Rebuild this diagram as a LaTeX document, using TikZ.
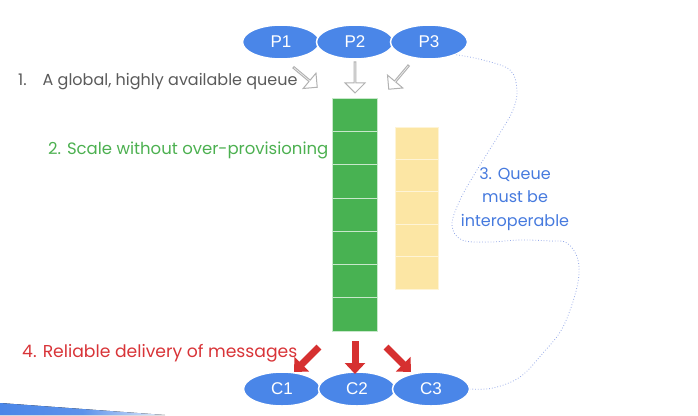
\documentclass[tikz,border=0pt]{standalone}
\usepackage{fontspec}
\setmainfont{Liberation Sans}
\newfontfamily\hand{Poppins}
\usetikzlibrary{shapes.geometric,shapes.arrows,arrows.meta}
\definecolor{gblue}{RGB}{74,134,232}
\definecolor{ggreen}{RGB}{72,178,82}
\definecolor{gyellow}{RGB}{252,230,164}
\definecolor{tgray}{RGB}{90,90,90}
\definecolor{tgreen}{RGB}{76,176,80}
\definecolor{tred}{RGB}{216,52,56}
\definecolor{tblue}{RGB}{70,122,222}
\definecolor{dotblue}{RGB}{150,170,232}
\definecolor{ared}{RGB}{214,48,48}
\tikzset{
  pc/.style={ellipse, fill=gblue, draw=white, line width=1.5pt, inner sep=0pt,
    minimum width=77pt, minimum height=34pt, text=white, font=\fontsize{17}{17}\selectfont},
  gcell/.style={rectangle, fill=ggreen, draw=white!70!ggreen, line width=0.8pt,
    minimum width=45pt, minimum height=33.3pt, inner sep=0pt},
  ycell/.style={rectangle, fill=gyellow, draw=white!55!gyellow, line width=0.8pt,
    minimum width=43pt, minimum height=32.4pt, inner sep=0pt},
  harrow/.style={single arrow, draw=gray!60, fill=white, line width=1pt,
    minimum height=31pt, minimum width=20pt, single arrow head extend=5pt,
    single arrow head indent=0pt, inner sep=0pt},
  rarrow/.style={draw=ared, line width=7pt, -{Triangle[width=20pt,length=11pt]}},
  htext/.style={inner sep=0pt},
}
\begin{document}
\begin{tikzpicture}[x=1pt,y=-1pt]
\useasboundingbox (0,0) rectangle (698,415);
% slide edge strip
\fill[left color=gblue, right color=gblue!15, middle color=gblue!90] (0,403) -- (165,415) -- (0,415) -- cycle;
% producers
\node[pc] (P1) at (281,42) {P1};
\node[pc] (P2) at (355,42) {P2};
\node[pc] (P3) at (429,42) {P3};
% consumers
\node[pc] (C1) at (282,389) {C1};
\node[pc] (C2) at (357,389) {C2};
\node[pc] (C3) at (431,389) {C3};
% green queue
\foreach \i in {1,...,7} {
  \node[gcell] (g\i) at (354.5, {98+33.3*(\i-0.5)}) {};
}
% yellow queue
\foreach \i in {1,...,5} {
  \node[ycell] (y\i) at (416.5, {127+32.4*(\i-0.5)}) {};
}
% hollow arrows
\node[harrow, rotate=-40] (a1) at (305,77) {};
\node[harrow, rotate=-90] (a2) at (355,77) {};
\node[harrow, rotate=-130] (a3) at (399,77) {};
% red arrows
\coordinate (r1s) at (319,347);
\coordinate (r1e) at (294,372);
\coordinate (r2s) at (355,341);
\coordinate (r2e) at (355,374);
\coordinate (r3s) at (386,347);
\coordinate (r3e) at (411,372);
\draw[rarrow] (r1s) -- (r1e);
\draw[rarrow] (r2s) -- (r2e);
\draw[rarrow] (r3s) -- (r3e);
% texts
\node[htext, text=tgray, anchor=west, font=\hand\fontsize{16}{19}\selectfont] (t1) at (18,82) {1.\quad A global, highly available queue};
\node[htext, text=tgreen, anchor=west, font=\hand\fontsize{16.5}{19}\selectfont] (t2) at (48,150) {2. Scale without over-provisioning};
\node[htext, text=tred, anchor=west, font=\hand\fontsize{17.2}{20}\selectfont] (t4) at (22,353) {4. Reliable delivery of messages};
\node[htext, text=tblue, align=center, font=\hand\fontsize{16}{23.5}\selectfont] (t3) at (515,199) {3. Queue\\must be\\interoperable};
% dotted boundary
\draw[dotblue, dotted, line width=0.8pt] plot[smooth, tension=0.6] coordinates {
 (P3.-25) (483,60) (510,70) (517,90) (513,110) (500,133) (477,170) (460,200) (452,225)
 (462,240) (490,242) (520,240) (550,241) (567,243) (578,260) (577,287) (563,327)
 (543,353) (520,377) (493,388) (C3.east)};
\end{tikzpicture}
\end{document}
